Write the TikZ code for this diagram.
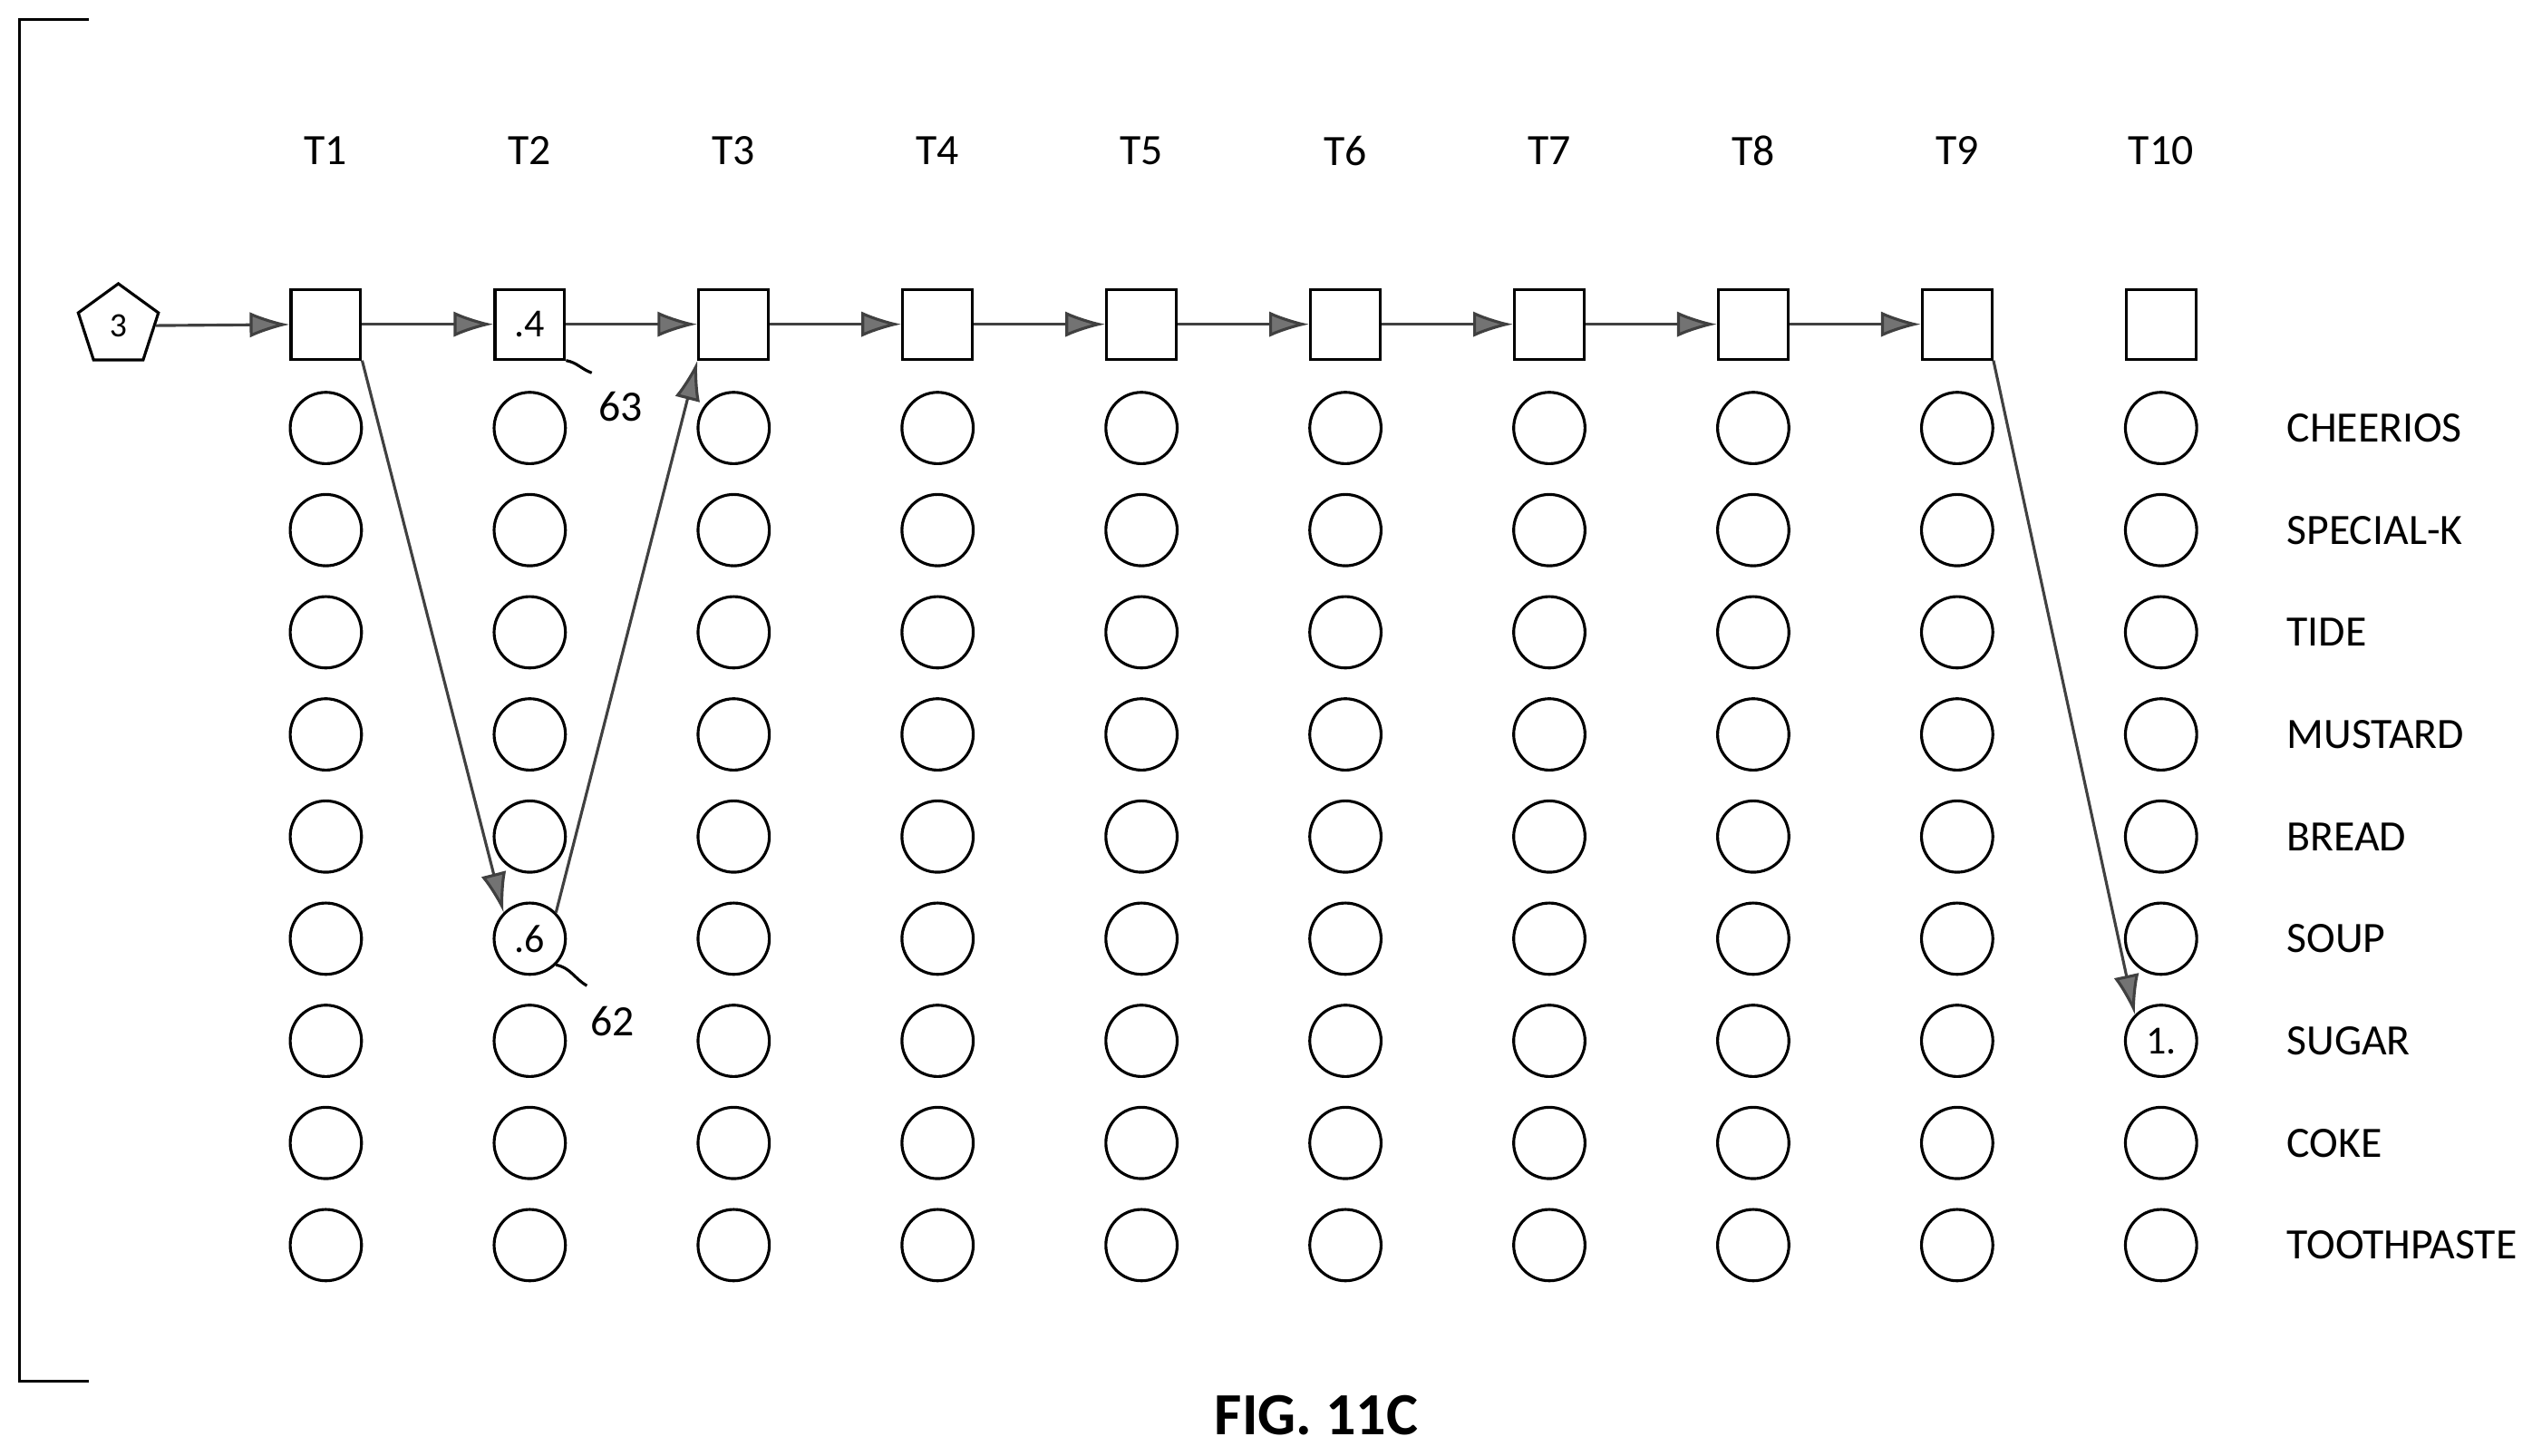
\documentclass[tikz,border=0pt]{standalone}
\usepackage{fontspec}
\setmainfont{Carlito}
\usetikzlibrary{shapes.geometric,arrows.meta}
\tikzset{
  state/.style={circle,draw,minimum size=0.44cm,inner sep=0pt,font=\fontsize{7}{8}\selectfont},
  slot/.style={rectangle,draw,minimum size=0.43cm,inner sep=0pt,font=\fontsize{7}{8}\selectfont},
  tlabel/.style={font=\fontsize{7.6}{9}\selectfont},
  link/.style={draw=black!75,line width=0.5pt,-{Latex[length=7pt,width=4.5pt,open,fill=black!55]}},
}
\begin{document}
\begin{tikzpicture}[line width=0.5pt]
\useasboundingbox (0,0) rectangle (15.68,8.98);
% bracket
\draw (0.55,8.86) -- (0.12,8.86) -- (0.12,0.46) -- (0.55,0.46);
% columns
\foreach \c in {1,...,10}{
  \pgfmathsetmacro{\x}{2.01+1.2578*(\c-1)}
  \node[tlabel] (t\c) at (\x,8.05) {T\c};
  \ifnum\c=2
    \node[slot] (s\c) at (\x,6.98) {.4};
  \else
    \node[slot] (s\c) at (\x,6.98) {};
  \fi
  \foreach \r in {1,...,9}{
    \pgfmathsetmacro{\y}{6.34-0.63*(\r-1)}
    \node[state] (c\c-\r) at (\x,\y) {};
  }
}
\node[font=\fontsize{7}{8}\selectfont] at (c2-6) {.6};
\node[font=\fontsize{7}{8}\selectfont] at (c10-7) {1.};
% items
\foreach \r/\name in {1/CHEERIOS,2/SPECIAL-K,3/TIDE,4/MUSTARD,5/BREAD,6/SOUP,7/SUGAR,8/COKE,9/TOOTHPASTE}{
  \node[tlabel,anchor=west] (l\r) at (13.98,6.34-0.63*\r+0.63) {\name};
}
% start
\node[regular polygon,regular polygon sides=5,draw,minimum size=0.52cm,inner sep=0pt,font=\fontsize{6}{7}\selectfont] (p) at (0.73,6.97) {3};
\draw[link] (p) -- (s1);
\draw[link] (s2) -- (s3);
\foreach \a/\b in {3/4,4/5,5/6,6/7,7/8,8/9}{
  \draw[link] (s\a) -- (s\b);
}
\draw[link] (s1.east) -- (s2.west);
\draw[link] (s1.south east) -- (c2-6.north west);
\draw[link] (c2-6.north east) -- (s3.south west);
\draw[link] (s9.south east) -- (c10-7.north west);
% reference numerals
\node[tlabel] (n63) at (3.83,6.47) {63};
\node[tlabel] (n62) at (3.78,2.68) {62};
\draw (s2.south east) to[out=-10,in=160] (3.65,6.68);
\draw (c2-6.south east) to[out=-10,in=150] (3.62,2.90);
\node[font=\bfseries\fontsize{10.5}{12}\selectfont] (fig) at (8.12,0.25) {FIG. 11C};
\end{tikzpicture}
\end{document}
